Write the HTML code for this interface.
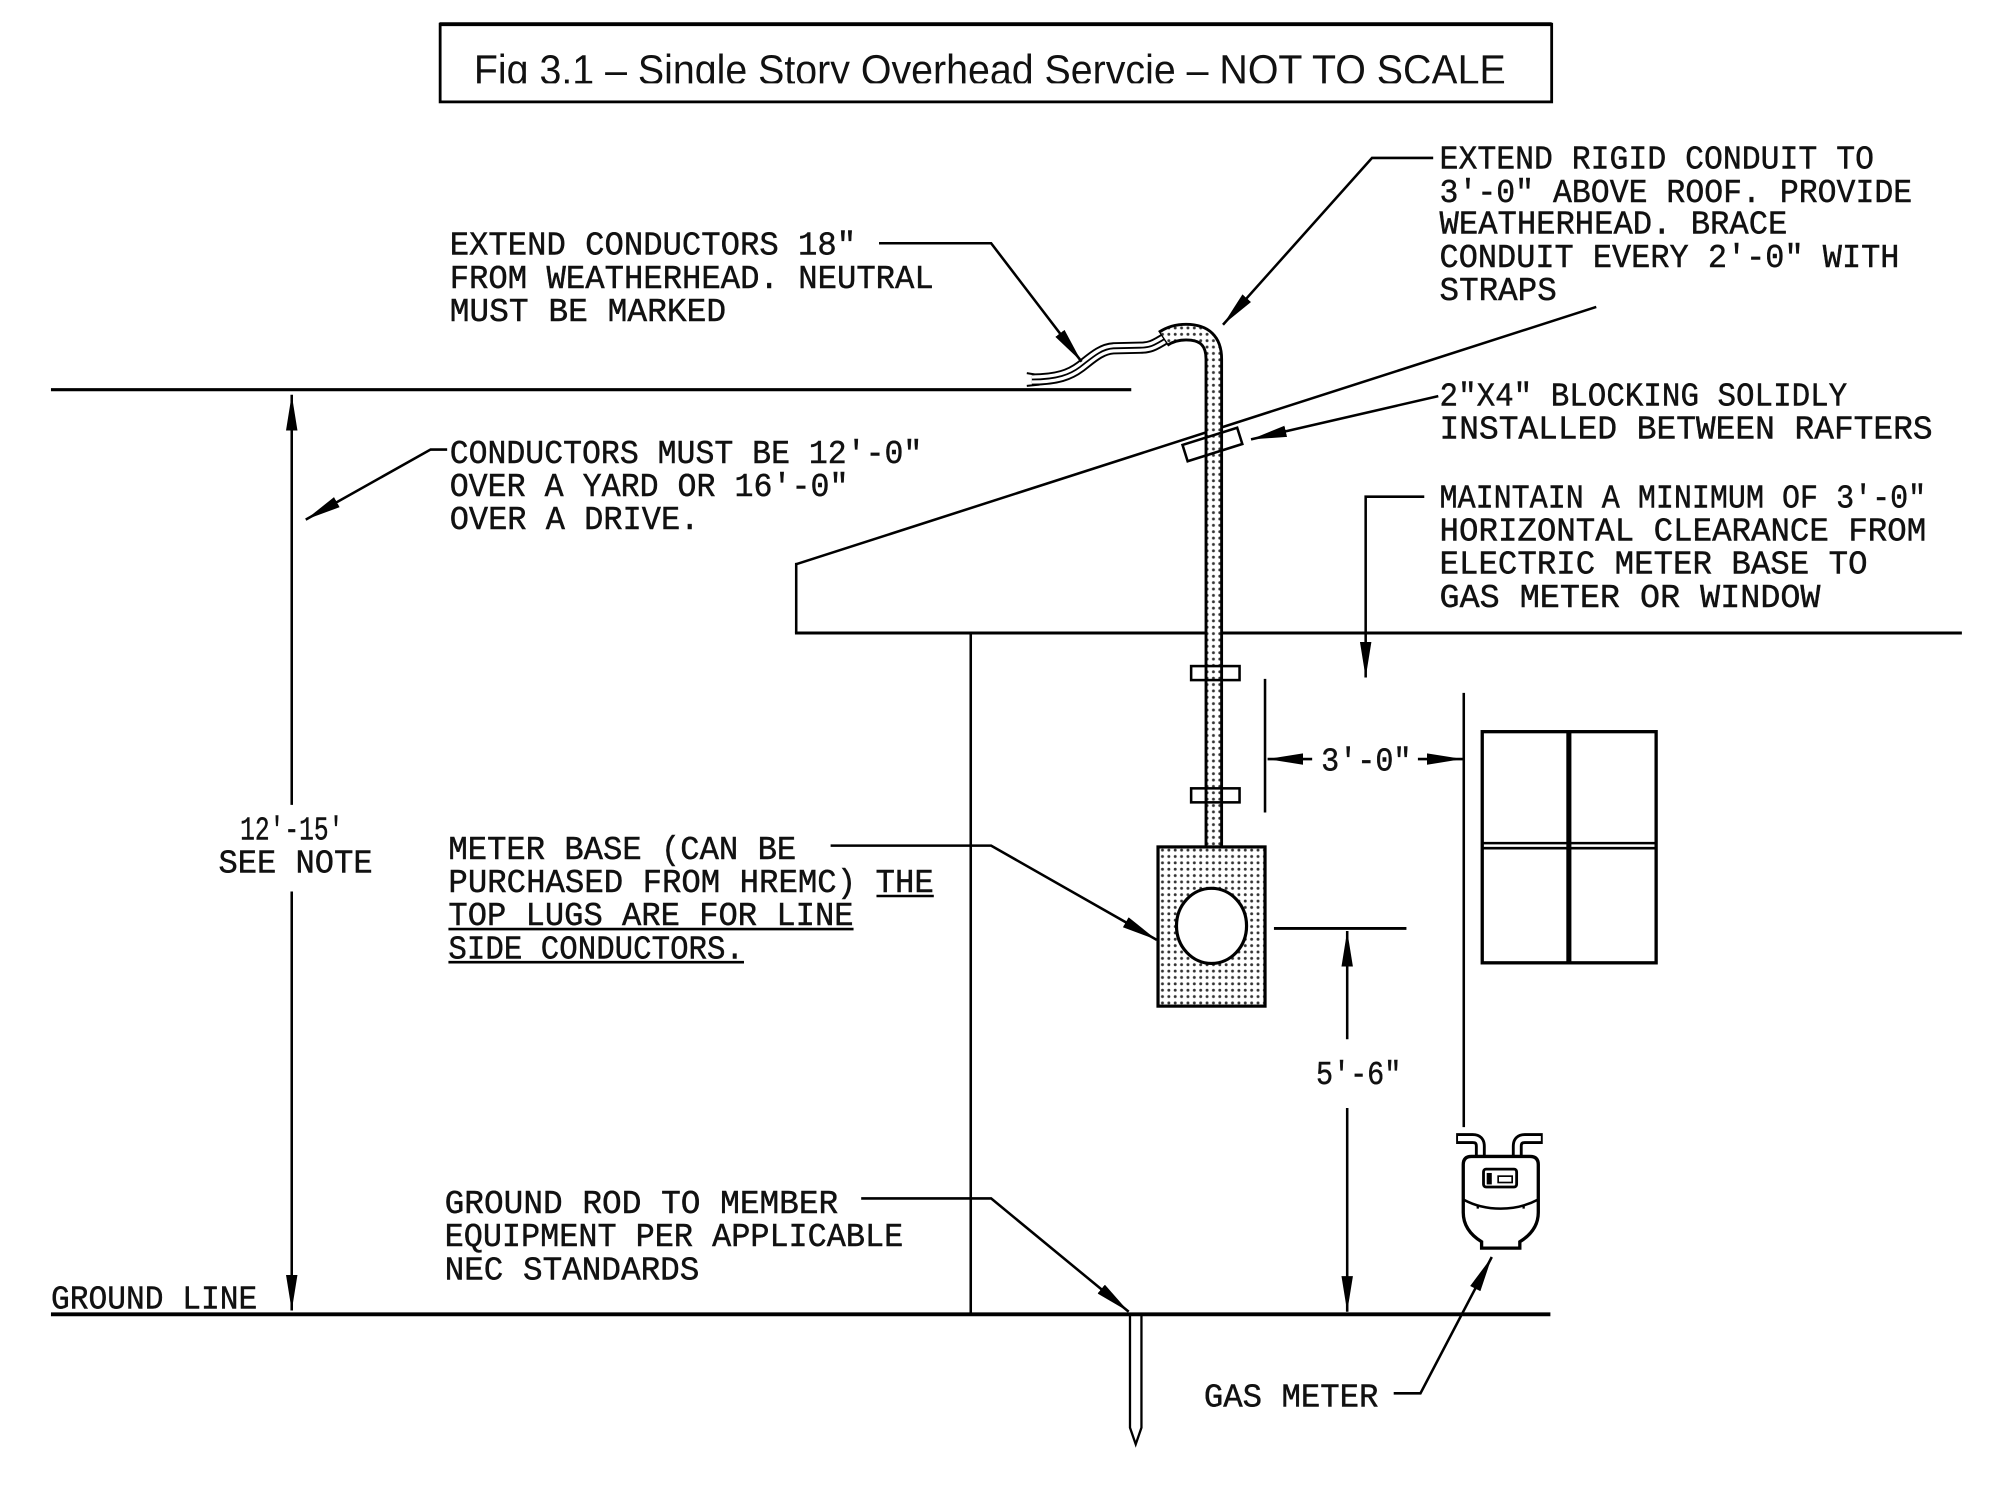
<!DOCTYPE html>
<html>
<head>
<meta charset="utf-8">
<style>
html,body{margin:0;padding:0;background:#fff;}
svg{display:block;}
.t{font-family:"Liberation Mono",monospace;font-size:26px;fill:#111;stroke:#111;stroke-width:0.35;}
.ln{stroke:#000;stroke-width:2;fill:none;}
</style>
</head>
<body>
<svg width="1995" height="1499" viewBox="0 0 1566 1177" preserveAspectRatio="none" xmlns="http://www.w3.org/2000/svg">
<defs>
  <marker id="ar" viewBox="-28 -5 28 10" refX="0" refY="0" markerWidth="28" markerHeight="10" markerUnits="userSpaceOnUse" orient="auto-start-reverse">
    <path d="M0,0 L-28,-4.5 L-28,4.5 Z" fill="#000"/>
  </marker>
  <pattern id="dots" width="5" height="5" patternUnits="userSpaceOnUse">
    <rect width="5" height="5" fill="#fff"/>
    <circle cx="2.5" cy="2.5" r="1.15" fill="#333"/>
  </pattern>
  <clipPath id="tclip"><rect x="345" y="18" width="873" height="47.5"/></clipPath>
</defs>

<rect x="0" y="0" width="1566" height="1177" fill="#fff"/>

<!-- Title box -->
<rect x="345.5" y="19" width="872.5" height="61" fill="none" stroke="#000" stroke-width="2.2"/>
<line x1="345" y1="19" x2="1218" y2="19" stroke="#000" stroke-width="3"/>
<text x="372" y="66" clip-path="url(#tclip)" font-family="'Liberation Sans',sans-serif" font-size="33" fill="#111" textLength="810" lengthAdjust="spacingAndGlyphs">Fig 3.1 – Single Story Overhead Servcie – NOT TO SCALE</text>

<!-- Structural lines -->
<line x1="40" y1="306" x2="888" y2="306" stroke="#000" stroke-width="2.5"/>
<line x1="625" y1="443" x2="1253" y2="241" class="ln"/>
<line x1="625" y1="442" x2="625" y2="497" class="ln"/>
<line x1="624" y1="497" x2="1540" y2="497" stroke="#000" stroke-width="2.4"/>
<line x1="762" y1="497" x2="762" y2="1032" class="ln"/>
<line x1="40" y1="1032" x2="1217" y2="1032" stroke="#000" stroke-width="3"/>

<!-- Conductors (wires) -->
<path d="M916,265 C905,272 902,273 895,273 L874,273.5 C864,274 856,282 848,288 C840,294 830,298 810,298" fill="none" stroke="#000" stroke-width="9.5"/>
<path d="M916,265 C905,272 902,273 895,273 L874,273.5 C864,274 856,282 848,288 C840,294 830,298 810,298" fill="none" stroke="#fff" stroke-width="6.5"/>
<path d="M916,265 C905,272 902,273 895,273 L874,273.5 C864,274 856,282 848,288 C840,294 830,298 810,298" fill="none" stroke="#000" stroke-width="1.4"/>
<path d="M806,293 L812,294 M806,303 L816,302" stroke="#000" stroke-width="1.6" fill="none"/>

<!-- Conduit -->
<path d="M952.8,666 V282 Q952.8,260.8 931,260.8 Q921,260.8 913,266" fill="none" stroke="#000" stroke-width="14.5"/>
<path d="M952.8,667 V282 Q952.8,260.8 931,260.8 Q921,260.8 914,265.5" fill="none" stroke="url(#dots)" stroke-width="10"/>

<!-- Blocking -->
<g transform="translate(951.7,349) rotate(-17.5)">
  <rect x="-22.5" y="-6.7" width="45" height="13.4" fill="none" stroke="#000" stroke-width="2"/>
</g>

<!-- Straps -->
<rect x="935" y="523" width="38" height="11" fill="none" stroke="#000" stroke-width="2"/>
<rect x="935" y="619" width="38" height="11" fill="none" stroke="#000" stroke-width="2"/>

<!-- Meter base -->
<rect x="909" y="665" width="84" height="125" fill="url(#dots)" stroke="#000" stroke-width="2.5"/>
<ellipse cx="951" cy="727" rx="27.5" ry="29.5" fill="#fff" stroke="#000" stroke-width="2.5"/>

<!-- Window -->
<rect x="1163.5" y="574.5" width="136.5" height="181.5" fill="none" stroke="#000" stroke-width="2.6"/>
<line x1="1231.5" y1="574" x2="1231.5" y2="756" stroke="#000" stroke-width="4"/>
<line x1="1163" y1="662" x2="1300" y2="662" stroke="#000" stroke-width="2"/>
<line x1="1163" y1="666" x2="1300" y2="666" stroke="#000" stroke-width="2"/>

<!-- Clearance / dimension lines -->
<line x1="993" y1="533" x2="993" y2="638" class="ln"/>
<line x1="1149" y1="544" x2="1149" y2="885" class="ln"/>
<line x1="1030" y1="596" x2="995" y2="596" class="ln" marker-end="url(#ar)"/>
<line x1="1113" y1="596" x2="1148" y2="596" class="ln" marker-end="url(#ar)"/>
<text class="t" x="1037" y="605" textLength="71" lengthAdjust="spacingAndGlyphs">3′-0″</text>

<line x1="1000" y1="729" x2="1104" y2="729" stroke="#000" stroke-width="2.2"/>
<line x1="1057.5" y1="816" x2="1057.5" y2="731" class="ln" marker-end="url(#ar)"/>
<line x1="1057.5" y1="870" x2="1057.5" y2="1030" class="ln" marker-end="url(#ar)"/>
<text class="t" x="1033" y="851" textLength="67" lengthAdjust="spacingAndGlyphs">5′-6″</text>

<!-- 12'-15' dimension -->
<line x1="229" y1="632" x2="229" y2="310" class="ln" marker-end="url(#ar)"/>
<line x1="229" y1="700" x2="229" y2="1029" class="ln" marker-end="url(#ar)"/>
<text class="t" x="188.5" y="659" textLength="81" lengthAdjust="spacingAndGlyphs">12′-15′</text>
<text class="t" x="171.5" y="685" textLength="121" lengthAdjust="spacingAndGlyphs">SEE NOTE</text>

<!-- Ground rod -->
<path d="M887,1033 V1121 L891.5,1134 L896,1121 V1033" fill="none" stroke="#000" stroke-width="1.8"/>

<!-- Gas meter -->
<path d="M1143,894 H1156 Q1162,894 1162,900 V909" fill="none" stroke="#000" stroke-width="8.5"/>
<path d="M1144.5,894 H1156 Q1162,894 1162,900 V909" fill="none" stroke="#fff" stroke-width="4"/>
<path d="M1211,894 H1197 Q1191,894 1191,900 V909" fill="none" stroke="#000" stroke-width="8.5"/>
<path d="M1209.5,894 H1197 Q1191,894 1191,900 V909" fill="none" stroke="#fff" stroke-width="4"/>
<path d="M1155,908 H1201 Q1207.5,908 1207.5,914.5 V952 Q1207.5,966 1193,975 V980 H1163 V975 Q1148.6,966 1148.6,952 V914.5 Q1148.6,908 1155,908 Z" fill="#fff" stroke="#000" stroke-width="2.6"/>
<rect x="1164.5" y="918" width="26" height="14" rx="2" fill="none" stroke="#000" stroke-width="2.2"/>
<rect x="1167" y="921" width="4" height="9" fill="#000"/>
<rect x="1176" y="923.5" width="11" height="5" fill="none" stroke="#000" stroke-width="1.3"/>
<path d="M1149,942 Q1162,949 1178,949 Q1194,949 1207,942" fill="none" stroke="#000" stroke-width="2"/>
<path d="M1160,946 V949 M1196,946 V949" stroke="#000" stroke-width="1.8"/>

<!-- Leaders -->
<polyline points="690,191 778,191 849,284" class="ln" marker-end="url(#ar)"/>
<polyline points="1125,124 1077,124 960,255" class="ln" marker-end="url(#ar)"/>
<polyline points="1129,311 982,345" class="ln" marker-end="url(#ar)"/>
<polyline points="351,353 338,353 240,408" class="ln" marker-end="url(#ar)"/>
<polyline points="1118,390 1072,390 1072,532" class="ln" marker-end="url(#ar)"/>
<polyline points="652,664 778,664 908,738" class="ln" marker-end="url(#ar)"/>
<polyline points="676,941 778,941 886,1030" class="ln" marker-end="url(#ar)"/>
<polyline points="1094,1094 1115,1094 1171,987" class="ln" marker-end="url(#ar)"/>

<!-- Text blocks -->
<text class="t" x="353" y="200" textLength="319" lengthAdjust="spacingAndGlyphs">EXTEND CONDUCTORS 18″</text>
<text class="t" x="353" y="226" textLength="380" lengthAdjust="spacingAndGlyphs">FROM WEATHERHEAD. NEUTRAL</text>
<text class="t" x="353" y="252" textLength="217" lengthAdjust="spacingAndGlyphs">MUST BE MARKED</text>

<text class="t" x="1130" y="132.5" textLength="341" lengthAdjust="spacingAndGlyphs">EXTEND RIGID CONDUIT TO</text>
<text class="t" x="1130" y="158.5" textLength="371" lengthAdjust="spacingAndGlyphs">3′-0″ ABOVE ROOF. PROVIDE</text>
<text class="t" x="1130" y="183.5" textLength="273" lengthAdjust="spacingAndGlyphs">WEATHERHEAD. BRACE</text>
<text class="t" x="1130" y="209.5" textLength="361" lengthAdjust="spacingAndGlyphs">CONDUIT EVERY 2′-0″ WITH</text>
<text class="t" x="1130" y="235.5" textLength="92" lengthAdjust="spacingAndGlyphs">STRAPS</text>

<text class="t" x="1130" y="318.5" textLength="320" lengthAdjust="spacingAndGlyphs">2″X4″ BLOCKING SOLIDLY</text>
<text class="t" x="1130" y="344.5" textLength="387" lengthAdjust="spacingAndGlyphs">INSTALLED BETWEEN RAFTERS</text>

<text class="t" x="353" y="363.5" textLength="371" lengthAdjust="spacingAndGlyphs">CONDUCTORS MUST BE 12′-0″</text>
<text class="t" x="353" y="389.5" textLength="313" lengthAdjust="spacingAndGlyphs">OVER A YARD OR 16′-0″</text>
<text class="t" x="353" y="415.5" textLength="196" lengthAdjust="spacingAndGlyphs">OVER A DRIVE.</text>

<text class="t" x="1130" y="398.5" textLength="382" lengthAdjust="spacingAndGlyphs">MAINTAIN A MINIMUM OF 3′-0″</text>
<text class="t" x="1130" y="424.5" textLength="382" lengthAdjust="spacingAndGlyphs">HORIZONTAL CLEARANCE FROM</text>
<text class="t" x="1130" y="450.5" textLength="336" lengthAdjust="spacingAndGlyphs">ELECTRIC METER BASE TO</text>
<text class="t" x="1130" y="476.5" textLength="299" lengthAdjust="spacingAndGlyphs">GAS METER OR WINDOW</text>

<text class="t" x="352" y="674.5" textLength="273" lengthAdjust="spacingAndGlyphs">METER BASE (CAN BE</text>
<text class="t" x="352" y="700.5" textLength="381" lengthAdjust="spacingAndGlyphs">PURCHASED FROM HREMC) THE</text>
<text class="t" x="352" y="726.5" textLength="318" lengthAdjust="spacingAndGlyphs">TOP LUGS ARE FOR LINE</text>
<text class="t" x="352" y="752.5" textLength="232" lengthAdjust="spacingAndGlyphs">SIDE CONDUCTORS.</text>
<line x1="688" y1="703.5" x2="733" y2="703.5" stroke="#000" stroke-width="2"/>
<line x1="352" y1="729.5" x2="670" y2="729.5" stroke="#000" stroke-width="2"/>
<line x1="352" y1="755.5" x2="584" y2="755.5" stroke="#000" stroke-width="2"/>

<text class="t" x="349" y="952.5" textLength="309" lengthAdjust="spacingAndGlyphs">GROUND ROD TO MEMBER</text>
<text class="t" x="349" y="978.5" textLength="360" lengthAdjust="spacingAndGlyphs">EQUIPMENT PER APPLICABLE</text>
<text class="t" x="349" y="1004.5" textLength="200" lengthAdjust="spacingAndGlyphs">NEC STANDARDS</text>

<text class="t" x="40" y="1027.5" textLength="162" lengthAdjust="spacingAndGlyphs">GROUND LINE</text>
<text class="t" x="945" y="1104.5" textLength="137" lengthAdjust="spacingAndGlyphs">GAS METER</text>
</svg>
</body>
</html>
